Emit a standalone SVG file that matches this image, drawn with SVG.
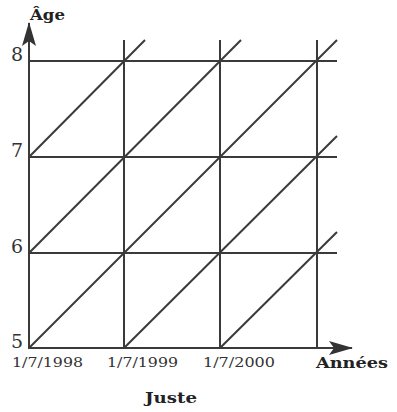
<svg xmlns="http://www.w3.org/2000/svg" width="397" height="412" viewBox="0 0 397 412">
<style>
.ln{stroke:#3a3a3a;stroke-width:2;fill:none;stroke-linecap:butt}
.num{font-family:"DejaVu Serif","Liberation Serif",serif;font-size:19px;fill:#333}
.date{font-family:"DejaVu Serif","Liberation Serif",serif;font-size:13.5px;fill:#333}
.bold{font-family:"DejaVu Serif","Liberation Serif",serif;font-size:15.5px;font-weight:bold;fill:#222}
</style>
<defs>
<marker id="arr" viewBox="0 0 24 16" refX="23" refY="8" markerWidth="24" markerHeight="16" markerUnits="userSpaceOnUse" orient="auto">
<path d="M0,1 L24,8 L0,15 L5,8 Z" fill="#333"/>
</marker>
</defs>
<rect width="397" height="412" fill="#fff"/>
<g id="connectors">
<g id="grid">
<line class="ln" x1="29" y1="61" x2="337" y2="61"/>
<line class="ln" x1="29" y1="157" x2="337" y2="157"/>
<line class="ln" x1="29" y1="253" x2="337" y2="253"/>
<line class="ln" x1="124" y1="40" x2="124" y2="348"/>
<line class="ln" x1="220" y1="40" x2="220" y2="348"/>
<line class="ln" x1="317" y1="40" x2="317" y2="348"/>
</g>
<g id="diagonals">
<line class="ln" x1="29" y1="157" x2="145" y2="40"/>
<line class="ln" x1="29" y1="253" x2="241" y2="40"/>
<line class="ln" x1="29" y1="348" x2="337" y2="40"/>
<line class="ln" x1="124" y1="348" x2="337" y2="136"/>
<line class="ln" x1="220" y1="348" x2="337" y2="232"/>
</g>
<g id="axes">
<line class="ln" x1="28" y1="348" x2="352" y2="348" marker-end="url(#arr)"/>
<line class="ln" x1="29" y1="349" x2="29" y2="23" marker-end="url(#arr)"/>
</g>
</g>
<g id="y-labels">
<text class="num" x="23" y="61" text-anchor="end">8</text>
<text class="num" x="23" y="157" text-anchor="end">7</text>
<text class="num" x="23" y="253" text-anchor="end">6</text>
<text class="num" x="23" y="348" text-anchor="end">5</text>
</g>
<g id="x-labels">
<text class="date" x="12" y="367" textLength="71" lengthAdjust="spacingAndGlyphs">1/7/1998</text>
<text class="date" x="107" y="367" textLength="71" lengthAdjust="spacingAndGlyphs">1/7/1999</text>
<text class="date" x="203" y="367" textLength="72" lengthAdjust="spacingAndGlyphs">1/7/2000</text>
</g>
<g id="axis-titles">
<text class="bold" x="30" y="20" textLength="35" lengthAdjust="spacingAndGlyphs">Âge</text>
<text class="bold" x="316" y="368" textLength="72" lengthAdjust="spacingAndGlyphs">Années</text>
<text class="bold" x="145" y="403" textLength="52" lengthAdjust="spacingAndGlyphs">Juste</text>
</g>
</svg>
